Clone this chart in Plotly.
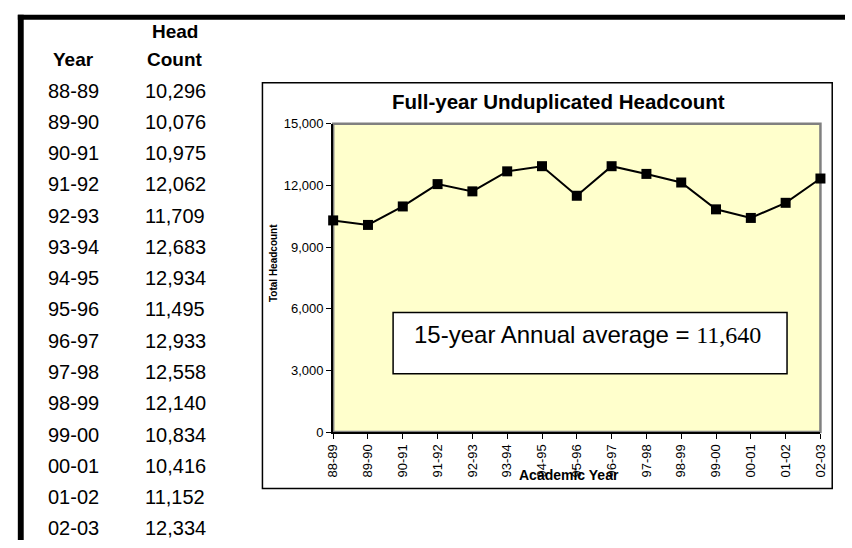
import plotly.graph_objects as go

# ---- data ----
years = ["88-89", "89-90", "90-91", "91-92", "92-93", "93-94", "94-95", "95-96",
         "96-97", "97-98", "98-99", "99-00", "00-01", "01-02", "02-03"]
headcount = [10296, 10076, 10975, 12062, 11709, 12683, 12934, 11495,
             12933, 12558, 12140, 10834, 10416, 11152, 12334]
y_ticks = [0, 3000, 6000, 9000, 12000, 15000]

title_text = "Full-year Unduplicated Headcount"
x_title = "Academic Year"
y_title = "Total Headcount"
avg_label = "15-year Annual average = "
avg_value = round(sum(headcount) / len(headcount))

W, H = 852, 548
SANS = "Liberation Sans, Arial, sans-serif"


def px(x):
    return x / W


def py(y):
    return 1 - y / H


fig = go.Figure()
fig.add_trace(go.Scatter(
    x=years, y=headcount, mode="lines+markers",
    line=dict(color="black", width=2),
    marker=dict(symbol="square", size=10, color="black"),
    cliponaxis=False, showlegend=False, hoverinfo="skip",
))

annotations = []
# chart title
annotations.append(dict(text="<b>%s</b>" % title_text, x=px(560), y=py(97),
                        xref="paper", yref="paper", showarrow=False,
                        font=dict(family=SANS, size=20.5, color="black"),
                        xanchor="center", yanchor="middle"))
# axis titles
annotations.append(dict(text="<b>%s</b>" % x_title, x=px(571), y=py(481),
                        xref="paper", yref="paper", showarrow=False,
                        font=dict(family=SANS, size=14, color="black"),
                        xanchor="center", yanchor="middle"))
annotations.append(dict(text="<b>%s</b>" % y_title, x=px(271), y=py(263),
                        xref="paper", yref="paper", showarrow=False, textangle=-90,
                        font=dict(family=SANS, size=10, color="black"),
                        xanchor="center", yanchor="middle"))
# average box text
annotations.append(dict(
    text=avg_label + "<span style=\"font-family:'Liberation Serif','Times New Roman',serif\">%s</span>" % format(avg_value, ","),
    x=px(411), y=py(337), xref="paper", yref="paper", showarrow=False,
    font=dict(family=SANS, size=24, color="black"),
    xanchor="left", yanchor="middle"))

# left table
col_year_x = 67
col_count_x = 170
hdr_font = dict(family=SANS, size=19, color="black")
annotations.append(dict(text="<b>Head</b>", x=px(col_count_x), y=py(25), xref="paper", yref="paper",
                        showarrow=False, font=hdr_font, xanchor="center", yanchor="middle"))
annotations.append(dict(text="<b>Count</b>", x=px(col_count_x), y=py(54), xref="paper", yref="paper",
                        showarrow=False, font=hdr_font, xanchor="center", yanchor="middle"))
annotations.append(dict(text="<b>Year</b>", x=px(col_year_x), y=py(54), xref="paper", yref="paper",
                        showarrow=False, font=hdr_font, xanchor="center", yanchor="middle"))
row0, row_step = 86, 32.14
cell_font = dict(family=SANS, size=20, color="black")
for i, (yr, hc) in enumerate(zip(years, headcount)):
    yy = row0 + i * row_step
    annotations.append(dict(text=yr, x=px(col_year_x), y=py(yy), xref="paper", yref="paper",
                            showarrow=False, font=cell_font, xanchor="center", yanchor="middle"))
    annotations.append(dict(text=format(hc, ","), x=px(col_count_x), y=py(yy), xref="paper", yref="paper",
                            showarrow=False, font=cell_font, xanchor="center", yanchor="middle"))

shapes = [
    # thick black page borders
    dict(type="rect", xref="paper", yref="paper", x0=px(10), x1=1.0, y0=py(13), y1=py(8),
         fillcolor="black", line=dict(width=0)),
    dict(type="rect", xref="paper", yref="paper", x0=px(10), x1=px(16), y0=0.0, y1=py(8),
         fillcolor="black", line=dict(width=0)),
    # chart frame
    dict(type="rect", xref="paper", yref="paper", x0=px(259), x1=px(839), y0=py(495), y1=py(78),
         line=dict(color="black", width=1.5), layer="below"),
    # plot area gray border
    dict(type="rect", xref="x domain", yref="y domain", x0=0, x1=1, y0=0, y1=1,
         line=dict(color="#808080", width=2.5), layer="below"),
    # average box
    dict(type="rect", xref="paper", yref="paper", x0=px(392), x1=px(793), y0=py(377), y1=py(314),
         fillcolor="white", line=dict(color="black", width=1.5)),
]

fig.update_layout(
    width=W, height=H, margin=dict(l=0, r=0, t=0, b=0),
    paper_bgcolor="white", plot_bgcolor="#FFFFCC",
    font=dict(family=SANS, color="black"),
    showlegend=False,
    xaxis=dict(domain=[px(331), px(827)], type="category", range=[0, 14],
               showline=True, linecolor="black", linewidth=2,
               ticks="outside", ticklen=5, tickcolor="black", tickwidth=1,
               tickangle=-90, tickfont=dict(family=SANS, size=13, color="black"),
               showgrid=False, zeroline=False, fixedrange=True),
    yaxis=dict(domain=[py(437), py(120)], range=[0, 15000], tickvals=y_ticks,
               tickformat=",", showline=True, linecolor="black", linewidth=2,
               ticks="outside", ticklen=5, tickcolor="black", tickwidth=1,
               tickfont=dict(family=SANS, size=13, color="black"),
               showgrid=False, zeroline=False, fixedrange=True),
    annotations=annotations,
    shapes=shapes,
)

fig.write_html("out.html")
